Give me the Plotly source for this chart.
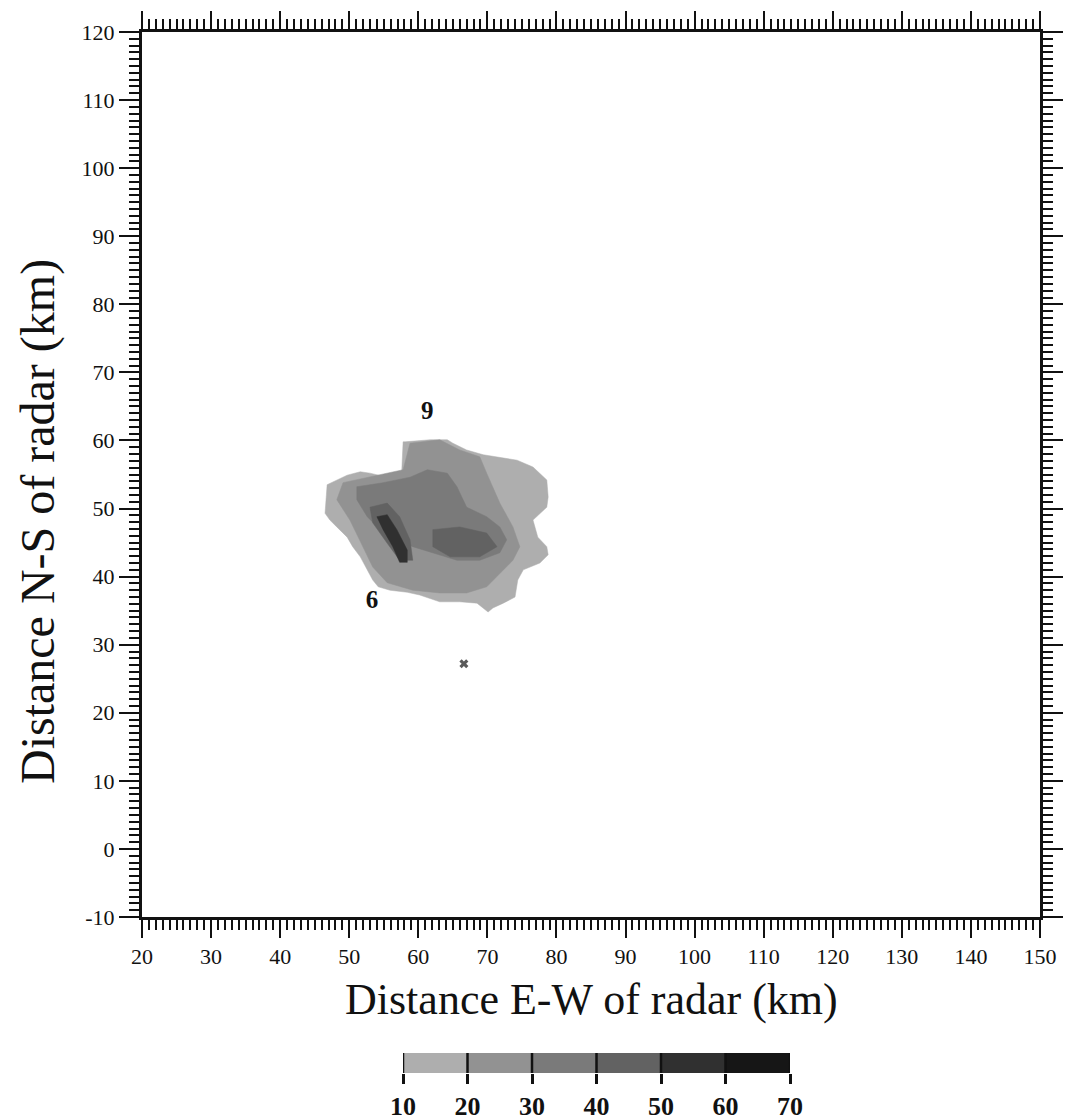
import plotly.graph_objects as go

# ---------------- data ----------------
x_ticks = list(range(20, 151, 10))
y_ticks = list(range(-10, 121, 10))
y_ticklabels = ["-10"] + [str(v) for v in range(0, 121, 10)]

levels = [10, 20, 30, 40, 50, 60, 70]
level_colors = ["#aeaeae", "#929292", "#7a7a7a", "#626262", "#303030", "#161616"]

# reflectivity region outlines (km)
lvl10_x = [46.8, 49.7, 51.6, 53.0, 55.5, 57.6, 57.8, 58.1, 61.7, 64.2, 65.0, 67.0, 69.4, 71.4, 74.3, 76.6,
           78.6, 78.8, 78.6, 76.6, 77.3, 78.6, 78.8, 77.6, 75.2, 74.4, 74.0, 72.3, 70.8, 70.1, 69.4, 68.5,
           66.0, 63.1, 60.2, 58.4, 55.9, 54.2, 53.4, 52.6, 51.6, 50.5, 49.7, 48.2, 47.2, 46.5]
lvl10_y = [53.5, 54.9, 55.4, 55.2, 54.6, 55.4, 59.8, 59.8, 60.1, 60.1, 59.6, 58.6, 57.9, 57.6, 57.1, 56.1,
           54.2, 51.7, 50.2, 48.3, 45.8, 44.4, 43.2, 42.0, 41.0, 39.5, 37.0, 36.1, 35.4, 34.8, 35.4, 36.1,
           36.3, 36.3, 37.3, 37.7, 38.0, 38.5, 39.5, 41.0, 42.9, 44.4, 45.8, 47.3, 48.3, 49.3]

lvl20_x = [49.1, 52.6, 57.8, 58.8, 63.1, 66.0, 68.9, 69.9, 71.8, 73.7, 74.7, 73.7, 71.8, 69.9, 67.0, 63.1,
           59.2, 55.5, 53.4, 52.0, 50.1, 48.2]
lvl20_y = [53.8, 54.6, 55.7, 59.6, 60.1, 58.6, 57.6, 55.2, 50.8, 47.3, 44.4, 42.4, 40.5, 38.5, 37.6, 37.6,
           38.0, 39.1, 41.4, 44.4, 48.3, 51.3]

lvl30_x = [51.1, 54.9, 58.8, 61.3, 64.2, 65.6, 67.0, 69.9, 71.8, 72.8, 71.8, 68.9, 65.6, 62.1, 59.2, 56.9,
           54.5, 52.6, 51.1]
lvl30_y = [53.2, 53.8, 54.6, 55.7, 55.2, 53.2, 50.2, 48.8, 47.3, 45.4, 43.5, 42.4, 42.4, 43.5, 44.4, 45.4,
           46.9, 48.8, 51.3]

lvl40a_x = [53.0, 55.5, 57.3, 58.8, 59.2, 57.3, 55.5, 53.4]
lvl40a_y = [50.2, 50.8, 48.8, 45.4, 42.4, 42.4, 44.9, 47.9]
lvl40b_x = [62.1, 66.0, 69.9, 71.4, 68.9, 64.6, 62.1]
lvl40b_y = [46.9, 47.3, 46.4, 44.4, 42.9, 42.9, 44.4]

lvl50_x = [54.0, 55.5, 56.9, 58.4, 58.4, 57.3, 56.3, 54.9]
lvl50_y = [48.8, 49.1, 46.9, 43.9, 42.1, 42.1, 44.4, 46.9]

echo_x = [66.6]
echo_y = [27.2]

labels_text = ["9", "6"]
labels_x = [61.3, 53.3]
labels_y = [64.0, 36.3]

x_title = "Distance E-W of radar (km)"
y_title = "Distance N-S of radar (km)"

# ---------------- figure ----------------
fig = go.Figure()

regions = [
    (lvl10_x, lvl10_y, level_colors[0]),
    (lvl20_x, lvl20_y, level_colors[1]),
    (lvl30_x, lvl30_y, level_colors[2]),
    (lvl40a_x, lvl40a_y, level_colors[3]),
    (lvl40b_x, lvl40b_y, level_colors[3]),
    (lvl50_x, lvl50_y, level_colors[4]),
]
for xs, ys, c in regions:
    fig.add_trace(go.Scatter(x=xs + xs[:1], y=ys + ys[:1], mode="lines", fill="toself",
                             fillcolor=c, line=dict(width=0.5, color=c), hoverinfo="skip",
                             showlegend=False, xaxis="x", yaxis="y"))

fig.add_trace(go.Scatter(x=echo_x, y=echo_y, mode="markers",
                         marker=dict(symbol="x", size=8, color="#5a5a5a", line=dict(width=0)),
                         showlegend=False, xaxis="x", yaxis="y"))

fig.add_trace(go.Scatter(x=labels_x, y=labels_y, mode="text", text=labels_text,
                         textfont=dict(family="Liberation Serif", size=25, color="#111111", weight="bold"),
                         showlegend=False, xaxis="x", yaxis="y"))

# colour bar built as bar trace on its own axis
mids = [(levels[i] + levels[i + 1]) / 2 for i in range(len(levels) - 1)]
fig.add_trace(go.Bar(x=mids, y=[1] * len(mids), width=[10] * len(mids),
                     marker=dict(color=level_colors, line=dict(width=0)),
                     showlegend=False, xaxis="x2", yaxis="y2", hoverinfo="skip"))
sep_x, sep_y = [], []
for v in levels:
    sep_x += [v, v, None]
    sep_y += [0, 1, None]
fig.add_trace(go.Scatter(x=sep_x, y=sep_y, mode="lines", line=dict(color="#111111", width=2.5),
                         cliponaxis=False, showlegend=False, xaxis="x2", yaxis="y2", hoverinfo="skip"))

W, H = 1065, 1120
L, R, T, B = 142, 1040, 32, 917

axis_font = dict(family="Liberation Serif", size=22, color="#111111")
minor = dict(dtick=1, ticklen=10, tickwidth=1.6, ticks="outside", tickcolor="#111111", showgrid=False)

fig.update_layout(
    width=W, height=H,
    margin=dict(l=0, r=0, t=0, b=0),
    paper_bgcolor="white", plot_bgcolor="white",
    font=dict(family="Liberation Serif", color="#111111"),
    bargap=0,
    xaxis=dict(domain=[L / W, R / W], range=[20, 150], tickvals=x_ticks,
               ticks="outside", ticklen=18, tickwidth=2, tickcolor="#111111",
               showline=True, linewidth=3, linecolor="#111111", mirror="ticks",
               showgrid=False, zeroline=False, tickfont=axis_font, minor=minor,
               anchor="y", automargin=False),
    yaxis=dict(domain=[1 - B / H, 1 - T / H], range=[-10, 120], tickvals=y_ticks,
               ticktext=y_ticklabels,
               ticks="outside", ticklen=20, tickwidth=2, tickcolor="#111111",
               showline=True, linewidth=3, linecolor="#111111", mirror="ticks",
               showgrid=False, zeroline=False, tickfont=axis_font, minor=minor,
               anchor="x", automargin=False),
    xaxis2=dict(domain=[403 / W, 790 / W], range=[10, 70], tickvals=levels,
                ticks="outside", ticklen=10, tickwidth=2.5, tickcolor="#111111",
                showgrid=False, showline=False,
                zeroline=False, anchor="y2",
                tickfont=dict(family="Liberation Serif", size=26, color="#111111", weight="bold"),
                automargin=False),
    yaxis2=dict(domain=[1 - 1073 / H, 1 - 1053 / H], range=[0, 1], visible=False,
                anchor="x2", automargin=False),
    annotations=[
        dict(text=x_title, xref="paper", yref="paper", x=(L + R) / 2 / W, y=1 - 999 / H,
             xanchor="center", yanchor="middle", showarrow=False,
             font=dict(family="Liberation Serif", size=44, color="#111111")),
        dict(text=y_title, xref="paper", yref="paper", x=38 / W, y=1 - 522 / H,
             xanchor="center", yanchor="middle", showarrow=False, textangle=-90,
             font=dict(family="Liberation Serif", size=48, color="#111111")),
    ],
)

fig.write_html("out.html")
